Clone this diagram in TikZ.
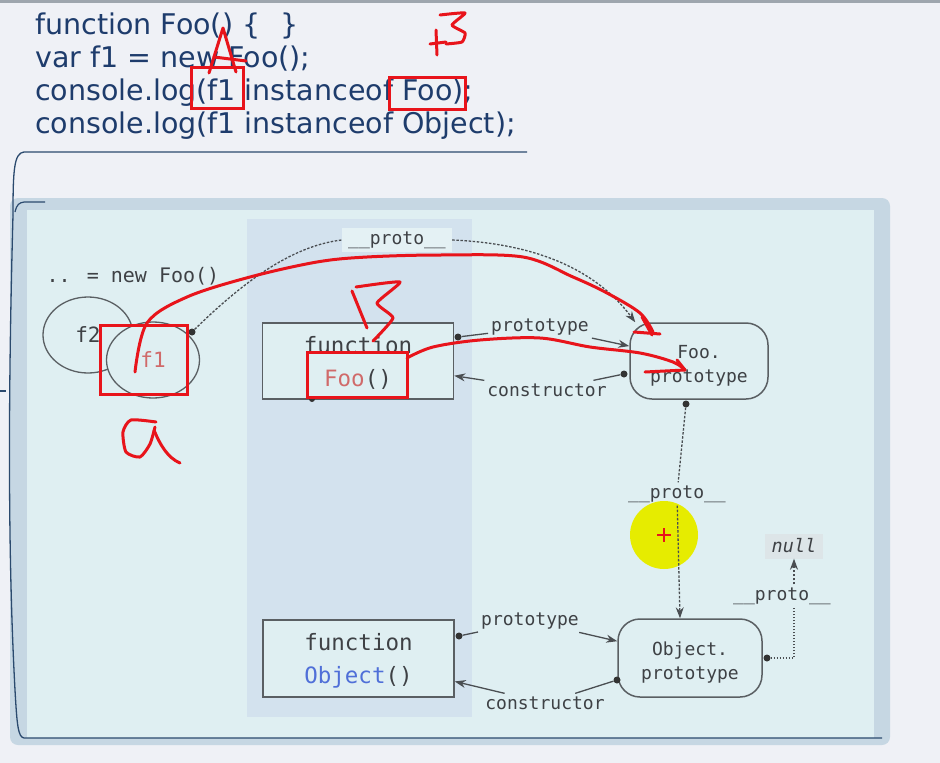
\documentclass[tikz,border=0pt]{standalone}
\usepackage{fontspec}
\setmainfont{DejaVu Sans}
\newfontfamily\monof{DejaVu Sans Mono}
\usetikzlibrary{arrows.meta,shapes.geometric}
\definecolor{pagebg}{HTML}{EFF1F6}
\definecolor{topbar}{HTML}{9EA6AE}
\definecolor{codecol}{HTML}{1E3C6C}
\definecolor{panelborder}{HTML}{C6D7E3}
\definecolor{panelfill}{HTML}{DFEFF2}
\definecolor{colfill}{HTML}{D3E2EE}
\definecolor{tpfill}{HTML}{E4F1F4}
\definecolor{nullfill}{HTML}{DDE5E8}
\definecolor{boxline}{HTML}{5A5F63}
\definecolor{edgecol}{HTML}{4A4E52}
\definecolor{txtgrey}{HTML}{3E4145}
\definecolor{foored}{HTML}{D06A6A}
\definecolor{objblue}{HTML}{4F6FD8}
\definecolor{annred}{HTML}{E8141B}
\definecolor{annblue}{HTML}{2B4A6E}
\definecolor{yel}{HTML}{E6EC00}
\begin{document}
\begin{tikzpicture}[x=1pt,y=-1pt,
  code/.style={anchor=base west, inner sep=0pt, font=\fontsize{28.5}{33}\selectfont, text=codecol},
  lbl/.style={font=\monof\fontsize{18}{20}\selectfont, text=txtgrey, inner sep=3pt},
  fnbox/.style={draw=boxline, line width=1.5pt, fill=panelfill, minimum width=191pt, minimum height=76pt, align=center, inner sep=0pt, font=\monof\fontsize{22.5}{33}\selectfont, text=txtgrey},
  protobox/.style={draw=boxline, line width=1.5pt, rounded corners=22pt, fill=panelfill, align=center, inner sep=0pt, font=\monof\fontsize{18}{24}\selectfont, text=txtgrey},
  objell/.style={ellipse, draw=boxline, line width=1.3pt, inner sep=0pt, font=\monof\fontsize{21}{24}\selectfont, text=txtgrey},
  dot/.style={circle, fill=black!80, inner sep=0pt, minimum size=7pt},
  edge/.style={draw=edgecol, line width=1.3pt},
  arr/.style={-{Stealth[length=11pt,width=8pt]}},
  dsh/.style={edge, dash pattern=on 2.5pt off 1.6pt},
  dtt/.style={edge, dash pattern=on 1.5pt off 1.5pt},
  ann/.style={draw=annred, line width=3pt, line cap=round, line join=round},
  annbox/.style={draw=annred, line width=3pt}
]
% page
\fill[pagebg] (0,0) rectangle (940,763);
\useasboundingbox (0,0) rectangle (940,763);
\fill[topbar] (0,0) rectangle (940,3);

% code
\node[code] (c1) at (35,34) {function Foo() \{\hspace{20pt}\}};
\node[code] (c2) at (35,67) {var f1 = new Foo();};
\node[code] (c3) at (35,100) {console.log(f1 instanceof Foo);};
\node[code] (c4) at (35,133) {console.log(f1 instanceof Object);};

% panel
\fill[panelborder, rounded corners=8pt] (10,198) rectangle (890,745);
\fill[panelfill] (27,210) rectangle (874,738);
\fill[colfill] (247,219) rectangle (472,717);

% hand-drawn blue outline
\draw[annblue, line width=1.3pt] (13,215) .. controls (13,170) and (14,153) .. (24,152) -- (527,152);
\draw[annblue, line width=1.3pt] (13,215) .. controls (8,400) and (8,560) .. (15,690) .. controls (17,725) and (18,737) .. (24,738) -- (882,738);
\draw[annblue, line width=1.2pt] (15,212) .. controls (17,204) and (19,203) .. (24,202) -- (45,202);
\draw[annblue, line width=1.2pt] (0,391) -- (6,391);

% yellow highlight
\fill[yel] (664,535) circle[radius=34pt];

% nodes
\node[font=\monof\fontsize{20}{22}\selectfont, text=txtgrey, inner sep=0pt] (newfoo) at (133,276) {.. = new Foo()};
\node[objell, minimum width=90pt, minimum height=76pt] (f2) at (88,335) {\raisebox{-3pt}{f2}};
\node[objell, minimum width=93pt, minimum height=76pt, fill=panelfill, text=foored] (f1) at (153,360) {f1};
\node[lbl, fill=tpfill, minimum width=110pt, minimum height=24pt, inner sep=0pt] (tp) at (397,240) {\_\_proto\_\_};

\node[fnbox] (foo) at (358,361) {\rule{0pt}{20pt}function\\\textcolor{foored}{Foo}()};
\node[protobox, minimum width=138pt, minimum height=76pt] (fp) at (699,361) {\rule{0pt}{22pt}Foo.\\prototype};
\node[fnbox, minimum height=77pt] (obj) at (358.5,658.5) {\rule{0pt}{21pt}function\\\textcolor{objblue}{Object}()};
\node[protobox, minimum width=144pt, minimum height=78pt] (op) at (690,658) {\rule{0pt}{22pt}Object.\\prototype};

\node[lbl] (pl1) at (540,327) {prototype};
\node[lbl] (cl1) at (547,390) {constructor};
\node[lbl] (pl2) at (677,494) {\_\_proto\_\_};
\node[lbl] (pl4) at (530,621) {prototype};
\node[lbl] (cl2) at (545,703) {constructor};
\node[lbl] (pl3) at (782,596) {\_\_proto\_\_};
\node[lbl, fill=nullfill, font=\monof\itshape\fontsize{18.5}{20}\selectfont, minimum width=58pt, minimum height=25pt, inner sep=0pt] (nul) at (794,546) {null};

\node[dot] (f1dot) at (192,332) {};
\node[dot] (d1) at (458,337) {};
\node[dot] (cdot) at (624,374) {};
\node[dot] (fpdot) at (686,404) {};
\node[dot] (d2) at (459,636) {};
\node[dot] (cdot2) at (617,680) {};
\node[dot] (opdot) at (767,658) {};
\node[dot, minimum size=6pt] (fdot) at (312,399) {};

% connectors
\draw[edge] (d1) -- (pl1);
\draw[edge, arr] (pl1) -- (fp);
\draw[edge] (cdot) -- (cl1);
\draw[edge, arr] (cl1) -- (foo);
\draw[edge] (d2) -- (pl4);
\draw[edge, arr] (pl4) -- (op);
\draw[edge] (cdot2) -- (cl2);
\draw[edge, arr] (cl2) -- (obj);
\draw[dsh] (f1dot) .. controls (240,285) and (290,246) .. (tp.west);
\draw[dsh, arr] (tp.east) .. controls (545,244) and (600,275) .. ([xshift=6pt]fp.north west);
\draw[dsh] (fpdot) -- (pl2);
\draw[dsh, arr] (pl2) -- ([xshift=-10pt]op.north);
\draw[dtt] (opdot) -| (pl3.south -| nul.south);
\draw[dsh, arr] (pl3.north -| nul.south) -- (nul.south);

% red cursor cross
\draw[annred, line width=2.5pt] (657,535) -- (671,535) (664,528) -- (664,542);

% red annotations
\draw[annbox] (191,67) rectangle (243,108);
\draw[annbox] (389,77) rectangle (465,109);
\draw[annbox] (100,325) rectangle (187,394);
\draw[annbox] (307,352) rectangle (407,397);
% A
\draw[ann] (209,73) -- (223,28) -- (236,72);
\draw[ann] (214,57) -- (246,61);
% +3 top
\draw[ann] (436,30) -- (437,55);
\draw[ann] (430,44) -- (446,42);
\draw[ann] plot[smooth, tension=0.3] coordinates {(440,15) (465,13) (452,25) (465,33) (462,42) (446,44)};
% B mid
\draw[ann] (352,291) -- (367,328);
\draw[ann] plot[smooth, tension=0.3] coordinates {(356,287) (400,282) (377,303) (393,318) (373,341)};
% a below f1
\draw[ann] plot[smooth, tension=0.4] coordinates {(156,422) (131,420) (123,432) (126,452) (140,457) (150,444) (155,427)};
\draw[ann] (154,430) .. controls (160,445) and (168,458) .. (180,463);
% curve f1 -> Foo.prototype
\draw[ann] plot[smooth, tension=0.55] coordinates {(135,372) (147,323) (187,297) (250,277) (317,262) (367,257) (440,255) (523,257) (573,277) (607,293) (640,313) (653,332)};
\draw[ann] (642,317) -- (652,335);
\draw[ann] (634,332) -- (660,334);
% curve Foo() -> Foo.prototype
\draw[ann] plot[smooth, tension=0.55] coordinates {(407,358) (433,347) (480,340) (540,338) (590,347) (640,353) (673,362) (685,370)};
\draw[ann] (645,372) -- (685,370);
\draw[ann] (677,360) -- (685,370);
\end{tikzpicture}
\end{document}
